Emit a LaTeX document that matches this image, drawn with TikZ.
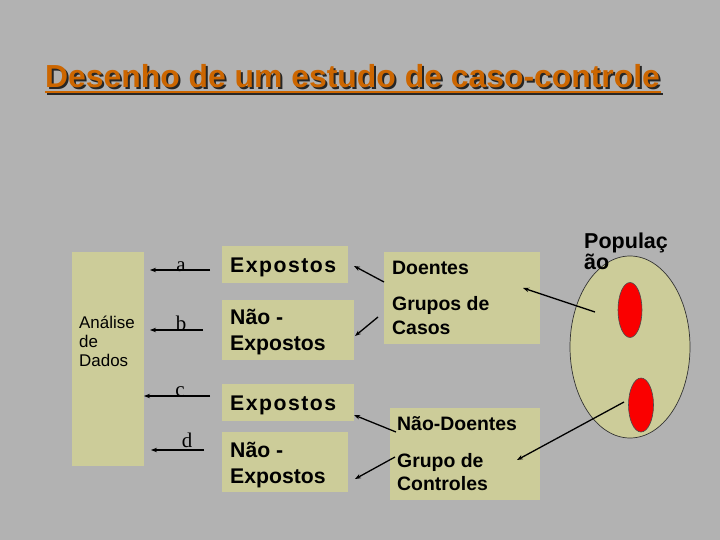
\documentclass[tikz,border=0pt]{standalone}
\usepackage{fontspec}
\setmainfont{Liberation Sans}
\newfontfamily\lserif{Liberation Serif}
\usetikzlibrary{arrows.meta,shapes.geometric}
\definecolor{bg}{RGB}{178,178,178}
\definecolor{khaki}{RGB}{204,204,153}
\definecolor{titleor}{RGB}{204,102,0}
\definecolor{popred}{RGB}{250,0,0}
\begin{document}
\begin{tikzpicture}[x=1bp,y=-1bp,
  box/.style={fill=khaki, draw=none, inner sep=0, outer sep=0, anchor=north west},
  txt/.style={anchor=base west, inner sep=0, font=\bfseries\fontsize{21.3}{26}\selectfont},
  spaced/.style={font=\bfseries\fontsize{21.3}{26}\selectfont\addfontfeature{LetterSpace=7}},
  rtxt/.style={anchor=base west, inner sep=0, font=\bfseries\fontsize{19.5}{24}\selectfont},
  stxt/.style={anchor=base west, inner sep=0, font=\fontsize{17}{20}\selectfont},
  lbl/.style={anchor=base, inner sep=0, font=\lserif\fontsize{21}{24}\selectfont},
  conn/.style={line width=1.3bp, -{Stealth[length=6bp,width=4.5bp]}},
]
\fill[bg] (0,0) rectangle (720,540);
\useasboundingbox (0,0) rectangle (720,540);

% title
\node[anchor=base west, inner sep=0, text=black!85, font=\bfseries\fontsize{32}{38}\selectfont] (titleshadow) at (47,90) {Desenho de um estudo de caso-controle};
\draw[black!85, line width=2.2bp] (47,94) -- (663,94);
\draw[titleor, line width=2.2bp] (45,92) -- (661,92);
\node[anchor=base west, inner sep=0, text=titleor, font=\bfseries\fontsize{32}{38}\selectfont] (title) at (45,88) {Desenho de um estudo de caso-controle};

% left box
\node[box, minimum width=72bp, minimum height=214bp] (dados) at (72,252) {};
\node[stxt] (t1) at (79,328) {Análise};
\node[stxt] (t2) at (79,347.5) {de};
\node[stxt] (t3) at (79,366) {Dados};

% middle boxes
\node[box, minimum width=126bp, minimum height=37bp] (e1) at (222,246) {};
\node[box, minimum width=132bp, minimum height=60bp] (n1) at (222,300) {};
\node[box, minimum width=132bp, minimum height=37bp] (e2) at (222,384) {};
\node[box, minimum width=126bp, minimum height=60bp] (n2) at (222,432) {};
\node[txt, spaced] (e1t) at (230,273) {Expostos};
\node[txt] (n1a) at (230,324) {Não -};
\node[txt] (n1b) at (230,350) {Expostos};
\node[txt, spaced] (e2t) at (230,410) {Expostos};
\node[txt] (n2a) at (230,457) {Não -};
\node[txt] (n2b) at (230,483) {Expostos};

% right boxes
\node[box, minimum width=156bp, minimum height=92bp] (casos) at (384,252) {};
\node[box, minimum width=150bp, minimum height=92bp] (contr) at (390,408) {};
\node[rtxt] (c1) at (392,275) {Doentes};
\node[rtxt] (c2) at (392,310) {Grupos de};
\node[rtxt] (c3) at (392,334) {Casos};
\node[rtxt] (k1) at (397,430) {Não-Doentes};
\node[rtxt] (k2) at (397,467) {Grupo de};
\node[rtxt] (k3) at (397,490) {Controles};

% population
\node[ellipse, draw=black!80, line width=0.7bp, fill=khaki, minimum width=120bp, minimum height=182bp, inner sep=0] (pop) at (630,347) {};
\node[ellipse, draw=black!70, line width=0.6bp, fill=popred, minimum width=24bp, minimum height=55bp, inner sep=0] (red1) at (630,310) {};
\node[ellipse, draw=black!70, line width=0.6bp, fill=popred, minimum width=25bp, minimum height=54bp, inner sep=0] (red2) at (641,405) {};
\node[anchor=base west, inner sep=0, font=\bfseries\fontsize{21.6}{26}\selectfont] (p1) at (584,249) {Populaç};
\node[anchor=base west, inner sep=0, font=\bfseries\fontsize{21.6}{26}\selectfont] (p2) at (584,270) {ão};

% letter labels
\node[lbl] (la) at (181,272) {a};
\node[lbl] (lb) at (181,330) {b};
\node[lbl] (lc) at (180,396) {c};
\node[lbl] (ld) at (187,447) {d};

% connector endpoints
\coordinate (a0) at (210,270); \coordinate (a1) at (150,270);
\coordinate (b0) at (203,330); \coordinate (b1) at (150,330);
\coordinate (c0) at (210,396); \coordinate (c1p) at (144,396);
\coordinate (d0) at (204,450); \coordinate (d1) at (151,450);
\coordinate (r1s) at (384,282); \coordinate (r1e) at (354,266);
\coordinate (r2s) at (378,317); \coordinate (r2e) at (355,336);
\coordinate (r3s) at (396,432); \coordinate (r3e) at (354,415);
\coordinate (r4s) at (395,457); \coordinate (r4e) at (355,479);
\coordinate (p1s) at (595,312); \coordinate (p1e) at (523,288);
\coordinate (p2s) at (624,402); \coordinate (p2e) at (517,460);

\draw[conn] (a0) -- (a1);
\draw[conn] (b0) -- (b1);
\draw[conn] (c0) -- (c1p);
\draw[conn] (d0) -- (d1);
\draw[conn] (r1s) -- (r1e);
\draw[conn] (r2s) -- (r2e);
\draw[conn] (r3s) -- (r3e);
\draw[conn] (r4s) -- (r4e);
\draw[conn] (p1s) -- (p1e);
\draw[conn] (p2s) -- (p2e);
\end{tikzpicture}
\end{document}
